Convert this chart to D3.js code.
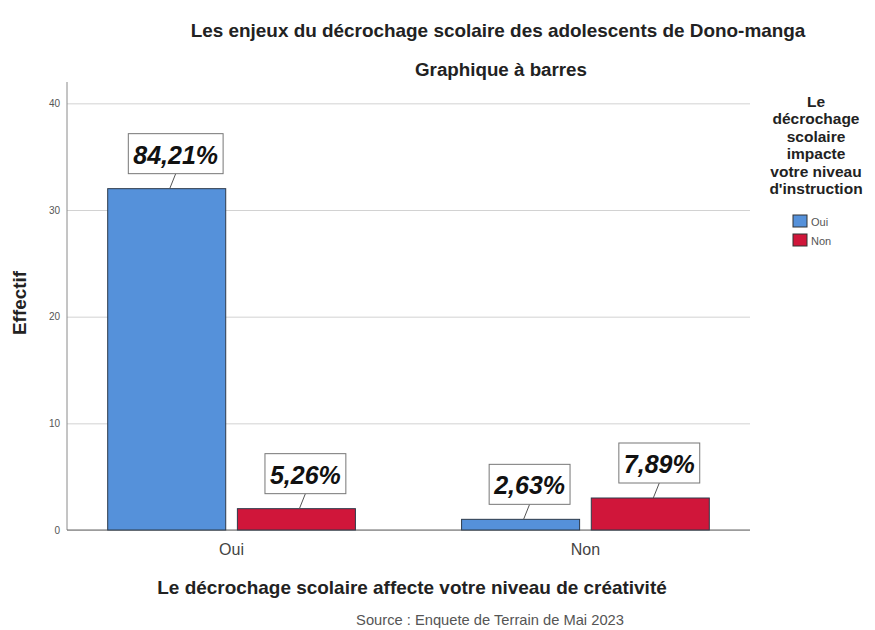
<!doctype html>
<html>
<head>
<meta charset="UTF-8">
<title>Décrochage scolaire</title>
<script src="https://cdn.jsdelivr.net/npm/d3@7"></script>
<style>
    body { margin: 0; background: #fff; }
    #chart { font-family: "Liberation Sans", Arial, sans-serif; }
    .grid line { stroke: #d2d2d2; }
    .grid .domain { display: none; }
    .tick text { fill: #555; font-size: 10px; }
</style>
</head>
<body>
<svg id="chart" width="875" height="630"></svg>
<script>
// categories de l'axe X (créativité) et groupes de la légende (instruction)
var categories = ["Oui", "Non"];
var groups = ["Oui", "Non"];
// effectifs par catégorie, dans l'ordre des groupes
var valuesOui = [32, 2];
var valuesNon = [1, 3];
var percentOui = ["84,21%", "5,26%"];
var percentNon = ["2,63%", "7,89%"];
var yTicks = [0, 10, 20, 30, 40];

var colors = { "Oui": "#5591da", "Non": "#d0163a" };

var rows = [];
categories.forEach(function(c, i) {
    var vals = c == "Oui" ? valuesOui : valuesNon;
    var pcts = c == "Oui" ? percentOui : percentNon;
    groups.forEach(function(g, j) {
        rows.push({ cat: c, group: g, value: vals[j], label: pcts[j] });
    });
});

var svg = d3.select("#chart");
var pLeft = 67, pRight = 750, pTop = 82, pBottom = 530;

var x = d3.scaleBand().domain(categories).range([pLeft, pRight])
    .paddingInner(0.3).paddingOuter(0.115);
var x1 = d3.scaleBand().domain(groups).range([0, x.bandwidth()]).paddingInner(0.09);
var y = d3.scaleLinear().domain([0, 42]).range([pBottom, pTop]);

// ajuste la taille de police pour obtenir la largeur voulue
function fit(t, w) {
    var fs = +t.attr("font-size");
    var cur = t.node().getComputedTextLength();
    t.attr("font-size", fs * w / cur);
    return t;
}

// titres
fit(svg.append("text").attr("x", 498).attr("y", 37).attr("text-anchor", "middle")
    .attr("font-size", 16).attr("font-weight", "bold").attr("fill", "#222")
    .text("Les enjeux du décrochage scolaire des adolescents de Dono-manga"), 615);
fit(svg.append("text").attr("x", 501).attr("y", 76).attr("text-anchor", "middle")
    .attr("font-size", 16).attr("font-weight", "bold").attr("fill", "#222")
    .text("Graphique à barres"), 172);

// grille + axe Y
svg.append("g").attr("class", "grid")
    .attr("transform", "translate(" + pLeft + ",0)")
    .call(d3.axisLeft(y).tickValues(yTicks).tickSize(-(pRight - pLeft)).tickPadding(7))
    .selectAll(".tick text").attr("fill", "#555");

svg.append("line").attr("x1", pLeft).attr("x2", pLeft).attr("y1", pTop).attr("y2", pBottom)
    .attr("stroke", "#8a8a8a");
svg.append("line").attr("x1", pLeft).attr("x2", pRight).attr("y1", pBottom).attr("y2", pBottom)
    .attr("stroke", "#666");

fit(svg.append("text").attr("transform", "translate(26,303) rotate(-90)")
    .attr("text-anchor", "middle").attr("font-size", 15).attr("font-weight", "bold")
    .attr("fill", "#222")
    .text("Effectif"), 64);

// barres
svg.append("g").selectAll("rect").data(rows).enter().append("rect")
    .attr("x", function(d) { return x(d.cat) + x1(d.group); })
    .attr("y", function(d) { return y(d.value); })
    .attr("width", x1.bandwidth())
    .attr("height", function(d) { return pBottom - y(d.value); })
    .attr("fill", function(d) { return colors[d.group]; })
    .attr("stroke", "#2d3a4a").attr("stroke-width", 1);

// étiquettes de pourcentage
var lab = svg.append("g").selectAll("g").data(rows).enter().append("g");
lab.each(function(d) {
    var g = d3.select(this);
    var cx = x(d.cat) + x1(d.group) + x1.bandwidth() / 2;
    var top0 = y(d.value);
    var bx = cx + 9, by = top0 - 15;
    var t = g.append("text").attr("x", bx).attr("y", by - 10)
        .attr("text-anchor", "middle").attr("font-size", 25)
        .attr("font-weight", "bold").attr("font-style", "italic").attr("fill", "#111")
        .text(d.label);
    var w = t.node().getComputedTextLength() + 10;
    g.insert("rect", "text").attr("x", bx - w / 2).attr("y", by - 40)
        .attr("width", w).attr("height", 40)
        .attr("fill", "#fff").attr("stroke", "#777");
    g.insert("line", "rect").attr("x1", cx + 3).attr("y1", top0)
        .attr("x2", bx).attr("y2", by).attr("stroke", "#555");
});

// libellés de catégories
svg.append("g").selectAll("text").data(categories).enter().append("text")
    .attr("x", function(d) { return x(d) + x.bandwidth() / 2; })
    .attr("y", 555).attr("text-anchor", "middle")
    .attr("font-size", 16).attr("fill", "#444")
    .text(function(d) { return d; });

fit(svg.append("text").attr("x", 412).attr("y", 594).attr("text-anchor", "middle")
    .attr("font-size", 17).attr("font-weight", "bold").attr("fill", "#222")
    .text("Le décrochage scolaire affecte votre niveau de créativité"), 510);

fit(svg.append("text").attr("x", 490).attr("y", 625).attr("text-anchor", "middle")
    .attr("font-size", 11).attr("fill", "#555")
    .text("Source : Enquete de Terrain de Mai 2023"), 268);

// légende
var legTitle = ["Le", "décrochage", "scolaire", "impacte", "votre niveau", "d'instruction"];
svg.append("g").selectAll("text").data(legTitle).enter().append("text")
    .attr("x", 816).attr("y", function(d, i) { return 107 + i * 17.4; })
    .attr("text-anchor", "middle").attr("font-size", 15.5).attr("font-weight", "bold")
    .attr("fill", "#222")
    .text(function(d) { return d; });

var leg = svg.append("g").selectAll("g").data(groups).enter().append("g")
    .attr("transform", function(d, i) { return "translate(793," + (215 + i * 19) + ")"; });
leg.append("rect").attr("width", 14).attr("height", 12)
    .attr("fill", function(d) { return colors[d]; }).attr("stroke", "#333");
leg.append("text").attr("x", 18).attr("y", 11).attr("font-size", 11).attr("fill", "#555")
    .text(function(d) { return d; });
</script>
</body>
</html>
